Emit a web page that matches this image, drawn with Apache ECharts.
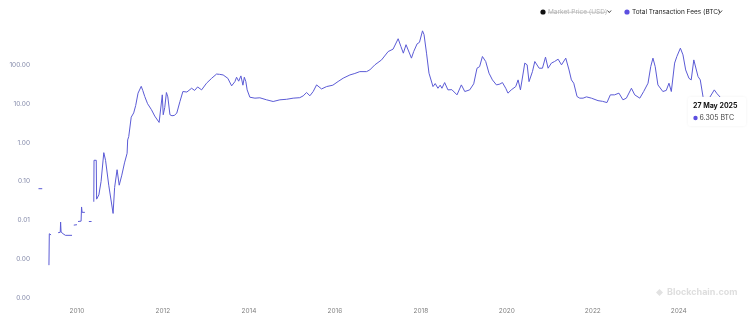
<!DOCTYPE html>
<html>
<head>
<meta charset="utf-8">
<script src="https://cdn.jsdelivr.net/npm/echarts@6/dist/echarts.min.js"></script>
<style>
html,body{margin:0;padding:0;background:#fff;}
#chart{width:748px;height:322px;}
</style>
</head>
<body>
<div id="chart"></div>
<script>
// ---- data ----
const feeDates = [
 '2009-02-08','2009-03-12','2009-03-20',
 '2009-05-08','2009-05-11','2009-05-26','2009-06-10',
 '2009-07-25','2009-08-12','2009-08-15','2009-08-19','2009-09-05','2009-09-25','2009-11-20','2009-11-28',
 '2009-12-05','2010-01-01','2010-01-06',
 '2010-01-10','2010-02-05','2010-02-09','2010-02-14','2010-03-09','2010-03-20',
 '2010-04-12','2010-05-05','2010-05-15',
 '2010-05-24','2010-05-26','2010-06-14','2010-06-17','2010-07-06','2010-07-25','2010-08-17','2010-09-01',
 '2010-09-28','2010-10-13','2010-11-04','2010-11-17','2010-12-08','2010-12-26',
 '2011-01-17','2011-02-09','2011-03-03','2011-03-08','2011-03-17','2011-04-07','2011-04-28','2011-05-15',
 '2011-06-04','2011-07-01','2011-07-14','2011-07-31','2011-08-24','2011-09-26','2011-10-24','2011-11-30',
 '2011-12-14','2011-12-27','2012-01-04','2012-01-17','2012-01-31','2012-02-12','2012-03-01','2012-03-18',
 '2012-04-07','2012-04-28','2012-05-12','2012-05-25','2012-06-19','2012-07-23','2012-09-01','2012-09-27',
 '2012-10-22','2012-11-25','2013-01-06','2013-02-18','2013-04-01','2013-04-27','2013-05-27','2013-07-06',
 '2013-08-07','2013-09-04','2013-09-18','2013-10-06','2013-10-25','2013-11-11','2013-11-23','2013-12-06',
 '2013-12-17','2014-01-09','2014-02-21','2014-04-04','2014-05-31','2014-07-26','2014-09-21','2014-11-17',
 '2015-01-12','2015-03-09','2015-04-07','2015-05-06','2015-06-03','2015-07-01','2015-07-30','2015-09-10',
 '2015-10-23','2015-12-15','2016-01-29','2016-03-12','2016-05-08','2016-06-19','2016-07-31','2016-09-26',
 '2016-10-24','2016-12-06','2017-02-01','2017-03-29','2017-05-10','2017-06-22','2017-07-15','2017-08-05',
 '2017-08-28','2017-10-13','2017-11-01','2017-11-30','2017-12-20','2018-01-15','2018-01-28','2018-02-18',
 '2018-03-11','2018-04-14','2018-05-03','2018-05-26','2018-06-14','2018-06-29','2018-07-22','2018-08-19',
 '2018-09-21','2018-11-04','2018-12-11','2019-01-09','2019-02-20','2019-03-26','2019-04-23','2019-05-15',
 '2019-06-08','2019-07-06','2019-08-03','2019-09-01','2019-10-05','2019-11-03','2019-11-25','2019-12-23',
 '2020-01-11','2020-02-08','2020-03-17','2020-04-06','2020-04-26','2020-06-02','2020-06-22','2020-07-08',
 '2020-08-06','2020-08-26','2020-10-02','2020-10-30','2020-11-25','2020-12-17','2021-01-14','2021-02-10',
 '2021-03-12','2021-04-10','2021-05-16','2021-06-13','2021-07-03','2021-07-23','2021-08-20','2021-09-12',
 '2021-10-10','2021-11-08','2021-12-20','2022-02-14','2022-03-25','2022-05-01','2022-05-30','2022-07-04',
 '2022-08-11','2022-09-14','2022-10-13','2022-11-25','2022-12-23','2023-02-04','2023-03-09','2023-04-15',
 '2023-05-08','2023-05-27','2023-06-15','2023-07-08','2023-08-19','2023-09-17','2023-10-10','2023-10-30',
 '2023-11-27','2023-12-16','2024-01-15','2024-02-06','2024-02-29','2024-03-28','2024-04-16','2024-05-08',
 '2024-05-24','2024-06-13','2024-07-02','2024-07-25','2024-08-16','2024-09-17','2024-10-29','2024-11-22',
 '2024-12-08','2025-01-15','2025-03-01','2025-04-20','2025-05-27'
];
const feeValues = [
 0.065,0.065,null,
 0.0007,0.0045,0.0042,null,
 0.0048,0.0049,0.009,0.005,0.0045,0.0041,0.0041,null,
 0.0075,0.0077,null,
 0.0093,0.0095,0.022,0.016,0.016,null,
 0.0093,0.0093,null,
 0.03,0.35,0.35,0.035,0.045,0.1,0.55,0.35,
 0.08,0.085,0.015,0.07,0.2,0.08,
 0.145,0.3,0.53,1.17,1.43,4.5,5.8,9,
 18.7,28,22,15.3,10,7,4.8,3.3,
 3.4,16.9,5.2,8,19.4,15,5.2,4.9,
 5,5.7,6,11.4,20.6,20,25,22,
 27,22.7,33.7,45,58,57,55,45,
 28.8,37,48,38,52,30,48,37,
 22.7,14.7,13.9,14.2,12.6,11.4,12.6,13,
 13.9,14.3,15.9,19.4,16,20.6,30.5,24,
 27.6,30,37.3,45.4,55,60,67,67,
 74,100,134,220,254,470,300,200,
 330,149,220,347,380,750,600,200,
 61,27.6,33,25,30,25,35,22.7,
 23,16.9,30.5,20.6,22.7,32.5,82,90,
 164,122,61,41,30.5,32,35,25,
 18.7,22.7,27.6,41,22.7,111,100,37,
 67,122,82,82,158,82,111,122,
 140,100,149,74,41,33.7,15.3,13.9,
 13.9,15,13.9,12,11.5,10.7,16.9,16.9,
 18.7,12.6,13.9,25,16.9,13.9,20.6,33.7,
 90,149,90,30.5,20.6,22,33.7,20.6,
 111,164,269,181,74,45,41,134,
 140,50,41,15.3,12,14,22.7,18,
 18.7,12,9,5.5,6.305
];
const yearTickLabels = [2010, 2012, 2014, 2016, 2018, 2020, 2022, 2024];
const legendNames = ['Market Price (USD)', 'Total Transaction Fees (BTC)'];
const tooltipDate = '27 May 2025';
const tooltipValue = '6.305 BTC';

// ---- chart ----
const LINE = '#5b5bd6';
const seriesData = feeDates.map((d, i) => [Date.parse(d + 'T00:00:00Z'), feeValues[i] === null ? '-' : feeValues[i]]);
const chart = echarts.init(document.getElementById('chart'), null, {renderer: 'canvas'});
const FONT = 'Inter, "Noto Sans", sans-serif';

const option = {
  animation: false,
  backgroundColor: '#ffffff',
  textStyle: {fontFamily: FONT},
  grid: {left: 34, right: 9, top: 26, bottom: 24, containLabel: false, outerBoundsMode: 'none'},
  xAxis: {
    type: 'value',
    min: Date.UTC(2009, 0, 1),
    max: Date.UTC(2025, 4, 27),
    axisLine: {show: false},
    axisTick: {show: false},
    splitLine: {show: false},
    axisLabel: {
      customValues: yearTickLabels.map(y => Date.UTC(y, 0, 1)),
      formatter: v => String(new Date(v).getUTCFullYear()),
      color: '#808080', fontSize: 6.5, margin: 10, fontFamily: FONT
    }
  },
  yAxis: {
    type: 'log', logBase: 10, min: 0.0001, max: 1000,
    name: 'BTC', nameLocation: 'middle', nameRotate: 90, nameGap: 28,
    nameTextStyle: {color: LINE, fontWeight: 'bold', fontSize: 7, fontFamily: FONT},
    axisLine: {show: false}, axisTick: {show: false}, splitLine: {show: false},
    axisLabel: {
      formatter: v => Number(v).toFixed(2), showMaxLabel: false,
      color: '#8288a8', fontSize: 6.5, margin: 4, fontFamily: FONT
    }
  },
  series: [{
    name: legendNames[1], type: 'line', data: seriesData,
    showSymbol: false, connectNulls: false,
    lineStyle: {width: 1, color: LINE}, itemStyle: {color: LINE}
  }],
  graphic: [
    {type: 'circle', shape: {cx: 543, cy: 12, r: 2.6}, style: {fill: '#111'}},
    {type: 'text', x: 548, y: 12, style: {text: legendNames[0], fill: '#b5b5b5', fontSize: 6.5, fontFamily: FONT, textVerticalAlign: 'middle'}},
    {type: 'line', shape: {x1: 548, y1: 12.3, x2: 606, y2: 12.3}, style: {stroke: '#b5b5b5', lineWidth: 0.7}},
    {type: 'polyline', shape: {points: [[607.5, 10.5], [609.3, 12.6], [611.1, 10.5]]}, style: {stroke: '#333', lineWidth: 0.9, fill: null}},
    {type: 'circle', shape: {cx: 627, cy: 12, r: 2.6}, style: {fill: '#5c4fe0'}},
    {type: 'text', x: 632, y: 12, style: {text: legendNames[1], fill: '#222', fontSize: 6.5, fontFamily: FONT, textVerticalAlign: 'middle'}},
    {type: 'polyline', shape: {points: [[718.5, 10.5], [720.3, 12.6], [722.1, 10.5]]}, style: {stroke: '#333', lineWidth: 0.9, fill: null}},
    {type: 'rect', z: 100, shape: {x: 688, y: 97, width: 58, height: 29, r: 2}, style: {fill: '#ffffff', shadowBlur: 3, shadowColor: 'rgba(0,0,0,0.06)'}},
    {type: 'text', z: 101, x: 693, y: 106, style: {text: tooltipDate, fill: '#111', fontSize: 7, fontWeight: 'bold', fontFamily: FONT, textVerticalAlign: 'middle'}},
    {type: 'circle', z: 101, shape: {cx: 695.5, cy: 118, r: 2.2}, style: {fill: '#5c4fe0'}},
    {type: 'text', z: 101, x: 699.5, y: 118, style: {text: tooltipValue, fill: '#444', fontSize: 7, fontFamily: FONT, textVerticalAlign: 'middle'}},
    {type: 'polygon', shape: {points: [[656, 292.5], [659.5, 289], [663, 292.5], [659.5, 296]]}, style: {fill: '#e2e2e2'}},
    {type: 'text', x: 667, y: 292.5, style: {text: 'Blockchain.com', fill: '#dedede', fontSize: 9, fontWeight: 'bold', fontFamily: FONT, textVerticalAlign: 'middle'}}
  ]
};
chart.setOption(option);
</script>
</body>
</html>
